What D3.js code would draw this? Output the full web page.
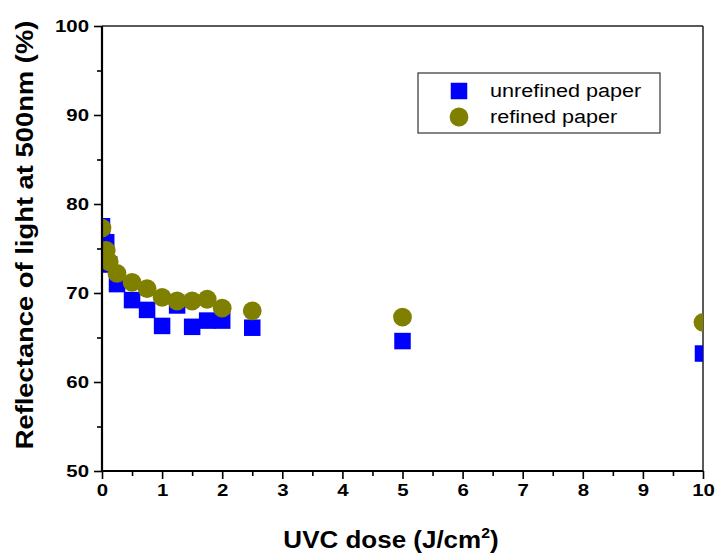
<!DOCTYPE html>
<html lang="en">
<head>
  <meta charset="utf-8">
  <title>UVC reflectance</title>
  <style>
  * { margin:0; padding:0; }
  body { background:#fff; }
  svg text { font-family: Arial, "Liberation Sans", sans-serif; }
  </style>
  <script src="https://d3js.org/d3.v7.min.js"></script>
</head>
<body>
  <div id="chart"></div>
  <script type="text/javascript">
    // UVC dose (J/cm2)
    var doses = [0, 0.07, 0.12, 0.25, 0.5, 0.75, 1, 1.25, 1.5, 1.75, 2, 2.5, 5, 10];
    // reflectance at 500nm (%)
    var unrefined = [77.5, 75.7, 73.2, 71.0, 69.2, 68.1, 66.3, 68.6, 66.2, 66.9, 66.9, 66.1, 64.6, 63.2];
    var refined   = [77.3, 74.8, 73.5, 72.2, 71.2, 70.5, 69.5, 69.1, 69.1, 69.3, 68.3, 68.0, 67.3, 66.7];
    var seriesNames = ["unrefined paper", "refined paper"];
    var xTicks = [0,1,2,3,4,5,6,7,8,9,10];
    var yTicks = [50,60,70,80,90,100];

    var W = 715, H = 554;
    var mLeft = 102, mRight = 703, mTop = 26, mBottom = 471;
    var stretch = 1.2; // text in the reference is a little wide

    var svg = d3.select("#chart").append("svg")
      .attr("width", W).attr("height", H);

    var x = d3.scaleLinear().domain([0,10]).range([mLeft,mRight]);
    var y = d3.scaleLinear().domain([50,100]).range([mBottom,mTop]);

    svg.append("clipPath").attr("id","plotclip")
      .append("rect")
      .attr("x", mLeft).attr("y", mTop)
      .attr("width", mRight-mLeft).attr("height", mBottom-mTop);

    // frame top/right
    svg.append("line").attr("x1",mLeft).attr("x2",mRight).attr("y1",mTop).attr("y2",mTop)
      .attr("stroke","#222").attr("stroke-width",1.5);
    svg.append("line").attr("x1",mRight).attr("x2",mRight).attr("y1",mTop).attr("y2",mBottom)
      .attr("stroke","#222").attr("stroke-width",1.5);

    var plot = svg.append("g").attr("clip-path","url(#plotclip)");
    var sq = 16.5;
    plot.selectAll("rect.unref").data(doses).join("rect")
      .attr("class","unref")
      .attr("x", function(d){ return x(d)-sq/2; })
      .attr("y", function(d,i){ return y(unrefined[i])-sq/2; })
      .attr("width", sq).attr("height", sq)
      .attr("fill","#0000ff");
    plot.selectAll("circle.ref").data(doses).join("circle")
      .attr("class","ref")
      .attr("cx", function(d){ return x(d); })
      .attr("cy", function(d,i){ return y(refined[i]); })
      .attr("r", 9.4)
      .attr("fill","#808000");

    // x axis
    var xAxis = d3.axisBottom(x).tickValues(xTicks).tickSize(8).tickPadding(5)
      .tickFormat(d3.format("d"));
    var gx = svg.append("g").attr("transform","translate(0,"+mBottom+")").call(xAxis);
    svg.append("g").attr("transform","translate(0,"+mBottom+")")
      .call(d3.axisBottom(x).tickValues(d3.range(0.5,10,1)).tickSize(5).tickFormat(""))
      .select(".domain").remove();

    // y axis
    var yAxis = d3.axisLeft(y).tickValues(yTicks).tickSize(8).tickPadding(5)
      .tickFormat(d3.format("d"));
    var gy = svg.append("g").attr("transform","translate("+mLeft+",0)").call(yAxis);
    svg.append("g").attr("transform","translate("+mLeft+",0)")
      .call(d3.axisLeft(y).tickValues(d3.range(55,100,10)).tickSize(5).tickFormat(""))
      .select(".domain").remove();

    svg.selectAll(".domain").attr("stroke","#000").attr("stroke-width",2.2);
    svg.selectAll(".tick line").attr("stroke","#000").attr("stroke-width",1.6);
    svg.selectAll(".tick text")
      .attr("font-family","Arial, 'Liberation Sans', sans-serif")
      .attr("font-size",17).attr("font-weight","bold").attr("fill","#000")
      .each(function(){
        var w = this.getComputedTextLength();
        if (w > 0) d3.select(this).attr("textLength", w*stretch).attr("lengthAdjust","spacingAndGlyphs");
      });
    gx.select(".domain").attr("d","M"+mLeft+",0H"+mRight);
    gy.select(".domain").attr("d","M0,"+mBottom+"V"+mTop);

    // axis titles
    var xt = svg.append("g").attr("transform","translate(391,548) scale(1.13,1)")
      .append("text")
      .attr("x", 0).attr("y", 0)
      .attr("text-anchor","middle")
      .attr("font-size",23).attr("font-weight","bold");
    xt.append("tspan").text("UVC dose (J/cm");
    xt.append("tspan").text("2").attr("font-size",14).attr("dy",-10);
    xt.append("tspan").text(")").attr("dy",10);

    svg.append("g").attr("transform","translate(33,235) rotate(-90) scale(1.19,1)")
      .append("text")
      .attr("text-anchor","middle")
      .attr("font-size",23).attr("font-weight","bold")
      .text("Reflectance of light at 500nm (%)");

    // legend
    var lg = svg.append("g");
    lg.append("rect").attr("x",418).attr("y",73).attr("width",242).attr("height",60)
      .attr("fill","#fff").attr("stroke","#333").attr("stroke-width",1.2);
    lg.append("rect").attr("x",459-sq/2).attr("y",91-sq/2).attr("width",sq).attr("height",sq)
      .attr("fill","#0000ff");
    lg.append("circle").attr("cx",459).attr("cy",117).attr("r",9.4).attr("fill","#808000");
    lg.selectAll("text.lt").data(seriesNames).join("text")
      .attr("class","lt")
      .attr("x",490).attr("y",function(d,i){ return 97+i*26; })
      .attr("font-size",18).attr("fill","#000")
      .text(function(d){ return d; })
      .each(function(){
        var w = this.getComputedTextLength();
        d3.select(this).attr("textLength", w*stretch).attr("lengthAdjust","spacingAndGlyphs");
      });
  </script>
</body>
</html>
